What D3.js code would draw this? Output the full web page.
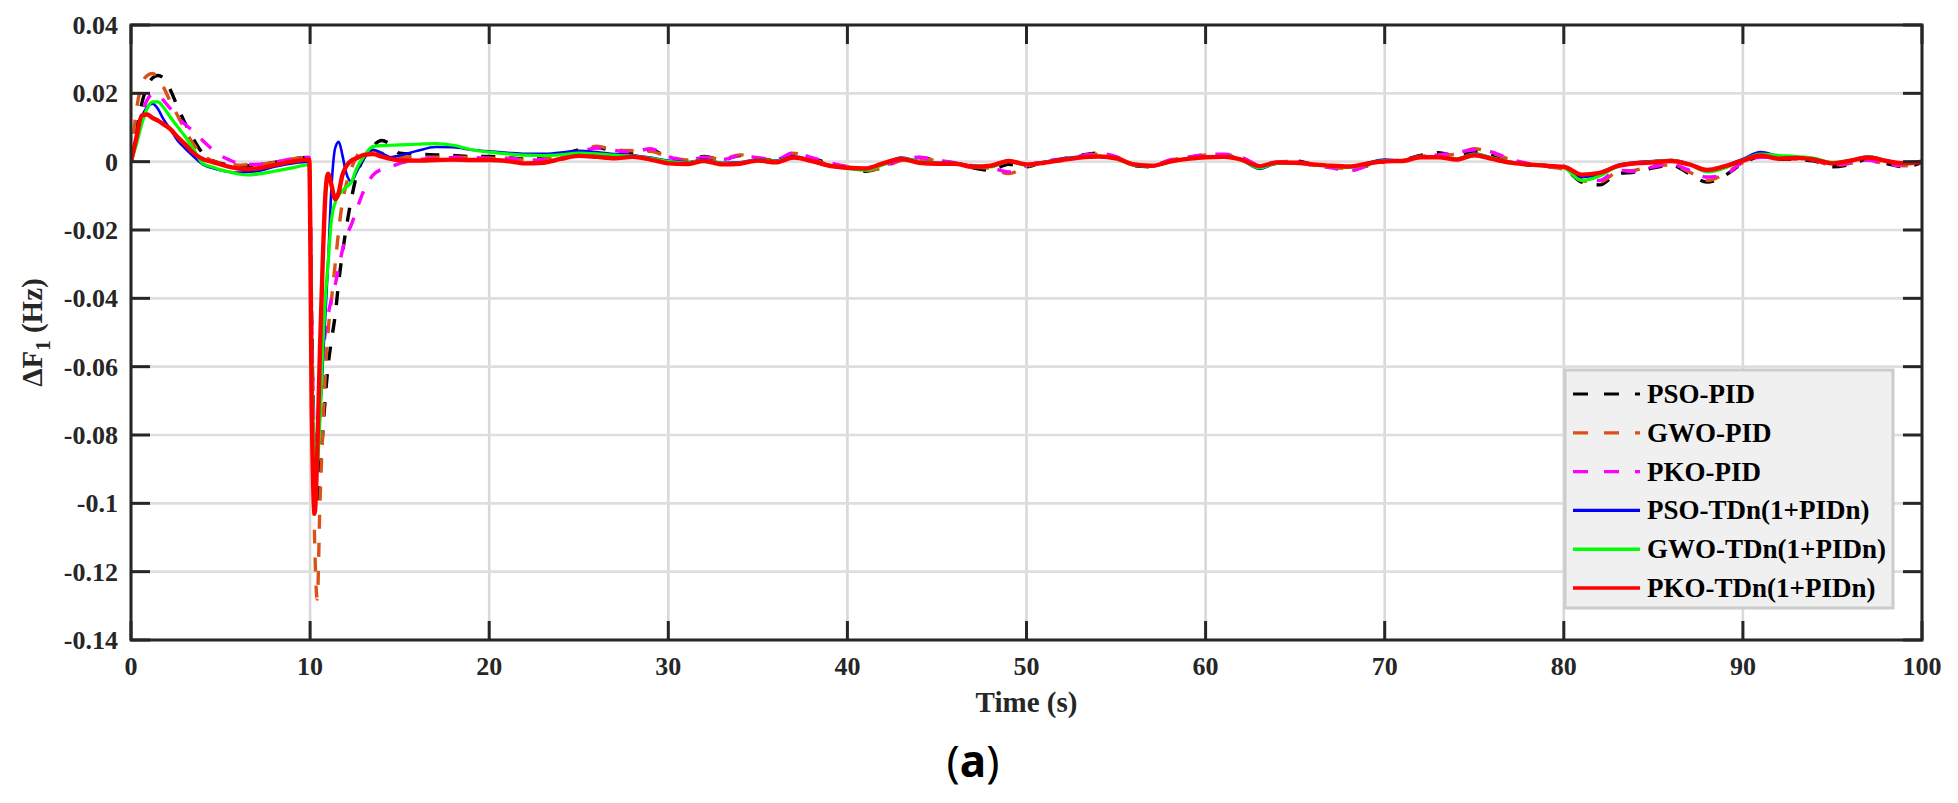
<!DOCTYPE html>
<html lang="en">
<head>
  <meta charset="UTF-8" />
  <title>Delta F1 response</title>
  <script src="https://d3js.org/d3.v7.min.js"></script>
  <style>
    html, body {
      margin: 0;
      padding: 0;
      width: 100%;
      height: 100%;
      overflow: hidden;
      background: #ffffff;
    }
    svg {
      display: block;
      background: #ffffff;
    }
    .tick-label {
      font-family: 'Liberation Serif', 'Times New Roman', serif;
      font-weight: bold;
      font-size: 26px;
      fill: #262626;
    }
    .axis-title {
      font-family: 'Liberation Serif', 'Times New Roman', serif;
      font-weight: bold;
      font-size: 29px;
      fill: #262626;
    }
    .legend-label {
      font-family: 'Liberation Serif', 'Times New Roman', serif;
      font-weight: bold;
      font-size: 27px;
      fill: #000;
    }
    .panel-label {
      font-family: 'Noto Sans', sans-serif;
      font-size: 44px;
      fill: #000;
    }
  </style>
</head>
<body>
<svg width="1958" height="803"></svg>
<script>
// time axis (s): fine steps around the load step at t = 10 s
const time = [
  0, 0.3, 0.6, 0.9, 1.2, 1.5, 1.8, 2.2, 2.6, 3, 3.5, 4, 4.5, 5, 5.5, 6, 6.5, 7, 8, 9, 9.95,
  10.1, 10.25, 10.4, 10.55, 10.7, 10.85, 11, 11.2, 11.4, 11.6, 11.8, 12, 12.3, 12.6, 13, 13.5, 14, 14.5, 15, 16, 17, 18, 19, 20,
  21, 22, 23, 24, 25, 26, 27, 28, 29, 30, 31, 32, 33, 34, 35, 36, 37, 38, 39, 40,
  41, 42, 43, 44, 45, 46, 47, 48, 49, 50, 51, 52, 53, 54, 55, 56, 57, 58, 59, 60,
  61, 62, 63, 64, 65, 66, 67, 68, 69, 70, 71, 72, 73, 74, 75, 76, 77, 78, 79, 80,
  81, 82, 83, 84, 85, 86, 87, 88, 89, 90, 91, 92, 93, 94, 95, 96, 97, 98, 99, 100
];

const psoPid = [
  0, 0.009, 0.017, 0.022, 0.0245, 0.0252, 0.0245, 0.021, 0.016, 0.0115, 0.0065, 0.0025, 0.0005, -0.0005, -0.001, -0.0012, -0.0012, -0.001, -0.0002, 0.0008, 0.0012,
  -0.05, -0.092, -0.1, -0.091, -0.08, -0.069, -0.06, -0.052, -0.045, -0.035, -0.027, -0.02, -0.011, -0.004, 0.001, 0.0045, 0.0062, 0.005, 0.0025, 0.0022, 0.002, 0.0018, 0.0015, 0.0015,
  0.0012, 0.0008, 0.001, 0.0018, 0.0035, 0.0042, 0.003, 0.0025, 0.0035, 0.0012, 0.0002, 0.0015, 0.0005, 0.0018, 0.0008, 0.0003, 0.0022, 0.001, -0.0006, -0.0018,
  -0.0028, -0.0015, 0.0005, 0.0012, 0.0003, -0.0005, -0.0018, -0.0025, -0.0008, -0.0015, 0, 0.0008, 0.0018, 0.0025, 0.0012, -0.0012, -0.0015, 0.0002, 0.0012, 0.0018,
  0.002, 0.0012, -0.0012, -0.0005, 0.0002, -0.0008, -0.0015, -0.0018, -0.0012, 0, 0.0005, 0.0018, 0.0026, 0.0015, 0.003, 0.0018, 0.0002, -0.001, -0.0012, -0.002,
  -0.006, -0.0068, -0.0035, -0.003, -0.0018, -0.001, -0.0035, -0.006, -0.004, -0.0005, 0.0015, 0.0008, 0.0006, 0.0002, -0.0015, -0.0008, 0.0008, -0.0005, -0.0015, -0.0002
];

const gwoPid = [
  0, 0.015, 0.0225, 0.0252, 0.0258, 0.0245, 0.022, 0.0175, 0.0135, 0.0095, 0.005, 0.002, 0.0003, -0.0005, -0.0008, -0.001, -0.0009, -0.0008, -0.0002, 0.0008, 0.0012,
  -0.06, -0.11, -0.128, -0.1, -0.08, -0.062, -0.05, -0.04, -0.03, -0.02, -0.012, -0.007, -0.002, 0.0015, 0.0033, 0.0033, 0.0025, 0.002, 0.0015, 0.0013, 0.0013, 0.0013, 0.0012, 0.001,
  0.001, 0.0006, 0.0008, 0.0018, 0.003, 0.0045, 0.0035, 0.0032, 0.003, 0.0015, 0.0005, 0.0013, 0.0008, 0.002, 0.001, 0.0005, 0.0025, 0.0008, -0.0008, -0.0016,
  -0.0025, -0.0018, 0.0004, 0.001, 0.0002, -0.0004, -0.0015, -0.002, -0.0035, -0.0015, -0.0002, 0.0006, 0.0016, 0.0022, 0.0013, -0.001, -0.0012, 0.0004, 0.0012, 0.002,
  0.0018, 0.001, -0.0012, -0.0002, 0.0001, -0.001, -0.0016, -0.002, -0.001, 0.0002, 0.0004, 0.0016, 0.0018, 0.0022, 0.0038, 0.0025, 0.0006, -0.0008, -0.0015, -0.0022,
  -0.0055, -0.006, -0.003, -0.0025, -0.0012, -0.001, -0.003, -0.0055, -0.0035, -0.0002, 0.0014, 0.001, 0.0008, 0.0004, -0.0012, -0.0005, 0.0006, -0.0008, -0.0012, -0.0004
];

const pkoPid = [
  0, 0.007, 0.014, 0.018, 0.0198, 0.0198, 0.018, 0.0155, 0.013, 0.011, 0.0088, 0.0062, 0.0038, 0.0018, 0.0005, -0.0005, -0.0008, -0.0008, -0.0002, 0.0008, 0.0012,
  -0.05, -0.08, -0.082, -0.068, -0.057, -0.05, -0.045, -0.04, -0.036, -0.031, -0.026, -0.022, -0.0185, -0.014, -0.0085, -0.004, -0.0022, -0.0015, -0.0005, 0.0005, 0.001, 0.0012, 0.0012, 0.001,
  0.001, 0.0005, 0.0006, 0.0015, 0.0028, 0.004, 0.0033, 0.0028, 0.0038, 0.0015, 0.0003, 0.0012, 0.0006, 0.0017, 0.0012, 0.0006, 0.0026, 0.0012, -0.0003, -0.0014,
  -0.0022, -0.0012, 0.0006, 0.0013, 0.0005, -0.0003, -0.0012, -0.0018, -0.003, -0.0012, 0.0002, 0.0008, 0.0017, 0.0024, 0.0015, -0.0008, -0.0011, 0.0005, 0.0013, 0.0021,
  0.0022, 0.0013, -0.0009, -0.0002, 0, -0.0012, -0.0018, -0.0027, -0.0013, 0.0001, 0.0004, 0.0015, 0.002, 0.0026, 0.0035, 0.0028, 0.0008, -0.0005, -0.0012, -0.0018,
  -0.0048, -0.0055, -0.0025, -0.0028, -0.0015, -0.0008, -0.0025, -0.0045, -0.0038, 0, 0.0013, 0.0012, 0.0008, 0.0005, -0.001, -0.0003, 0.0005, -0.0009, -0.001, -0.0003
];

const psoTdn = [
  0, 0.006, 0.013, 0.016, 0.017, 0.0155, 0.0125, 0.0095, 0.0062, 0.004, 0.0015, -0.0008, -0.0018, -0.0025, -0.003, -0.0032, -0.003, -0.0028, -0.0015, -0.0005, 0,
  -0.07, -0.095, -0.09, -0.075, -0.06, -0.045, -0.03, -0.007, 0.004, 0.0058, 0.002, -0.003, -0.0058, -0.003, 0.001, 0.0035, 0.0025, 0.0013, 0.0018, 0.0032, 0.0043, 0.0042, 0.0035, 0.003,
  0.0026, 0.0023, 0.0023, 0.0027, 0.0032, 0.0028, 0.0022, 0.0019, 0.0012, 0.0003, -0.0002, 0.0006, -0.0003, -0.0002, 0.0007, 0.0003, 0.0015, 0.0004, -0.001, -0.0018,
  -0.0022, -0.0007, 0.0012, 0.0001, -0.0003, -0.0004, -0.0012, -0.0014, 0.0003, -0.0008, 0, 0.0008, 0.0015, 0.0016, 0.0009, -0.0011, -0.0014, 0.0001, 0.001, 0.0014,
  0.0015, 0.0004, -0.0021, -0.0005, -0.0004, -0.0009, -0.0013, -0.0016, -0.0004, 0.0006, 0.0004, 0.0016, 0.0014, 0.0008, 0.0024, 0.0012, 0, -0.0007, -0.001, -0.0017,
  -0.0045, -0.0038, -0.001, -0.0002, 0.0002, 0.0005, -0.0006, -0.0026, -0.0012, 0.0008, 0.0028, 0.0016, 0.0012, 0.0008, -0.0004, 0.0004, 0.0015, 0.0003, -0.0006, 0.0002
];

const gwoTdn = [
  0, 0.005, 0.011, 0.0155, 0.0175, 0.0175, 0.016, 0.013, 0.0102, 0.0075, 0.0035, -0.0005, -0.0015, -0.0024, -0.003, -0.0036, -0.0039, -0.0037, -0.0028, -0.0018, -0.0009,
  -0.06, -0.085, -0.088, -0.075, -0.055, -0.04, -0.03, -0.0166, -0.012, -0.0098, -0.0085, -0.0075, -0.006, -0.002, 0.0015, 0.0044, 0.0047, 0.0048, 0.0049, 0.0051, 0.0053, 0.0048, 0.0035, 0.0028,
  0.0023, 0.0019, 0.0018, 0.002, 0.0025, 0.0023, 0.0019, 0.0016, 0.001, 0.0001, -0.0004, 0.0004, -0.0005, -0.0004, 0.0005, 0.0001, 0.0013, 0.0002, -0.0012, -0.002,
  -0.0025, -0.0009, 0.001, 0, -0.0005, -0.0005, -0.0014, -0.0015, 0.0001, -0.001, -0.0002, 0.0006, 0.0013, 0.0016, 0.0008, -0.001, -0.0013, -0.0001, 0.0009, 0.0013,
  0.0014, 0.0005, -0.0018, -0.0004, -0.0004, -0.0009, -0.0014, -0.0017, -0.0007, 0.0003, 0.0003, 0.0014, 0.0014, 0.0008, 0.0022, 0.0011, -0.0001, -0.0008, -0.0011, -0.0018,
  -0.0055, -0.0042, -0.0014, -0.0005, 0, 0.0004, -0.0007, -0.003, -0.0018, 0.0005, 0.0022, 0.0018, 0.0015, 0.001, -0.0002, 0.0004, 0.0014, 0.0003, -0.0007, 0.0002
];

const pkoTdn = [
  0, 0.007, 0.0135, 0.0138, 0.0128, 0.012, 0.011, 0.0095, 0.0072, 0.0052, 0.0025, 0.0008, 0, -0.0008, -0.0015, -0.002, -0.0022, -0.002, -0.001, 0, 0.0006,
  -0.075, -0.103, -0.085, -0.055, -0.03, -0.01, -0.0035, -0.007, -0.011, -0.009, -0.004, -0.0015, 0.0003, 0.001, 0.002, 0.0022, 0.0015, 0.0008, 0.0004, 0.0003, 0.0005, 0.0006, 0.0005, 0.0005,
  0.0002, -0.0005, -0.0003, 0.0008, 0.0017, 0.0014, 0.001, 0.0014, 0.0006, -0.0005, -0.0007, 0.0002, -0.0008, -0.0006, 0.0003, -0.0002, 0.0012, 0.0002, -0.0012, -0.0018,
  -0.002, -0.0005, 0.0008, -0.0003, -0.0006, -0.0006, -0.0015, -0.0012, 0.0002, -0.0008, -0.0003, 0.0005, 0.0012, 0.0015, 0.001, -0.0008, -0.0012, 0, 0.0008, 0.0013,
  0.0014, 0.0006, -0.0013, -0.0002, -0.0003, -0.0008, -0.0012, -0.0014, -0.0006, 0.0001, 0.0002, 0.0013, 0.0013, 0.0006, 0.0019, 0.0008, -0.0003, -0.0008, -0.0012, -0.0015,
  -0.0038, -0.0033, -0.0013, -0.0005, -0.0002, 0.0002, -0.0008, -0.0024, -0.0013, 0.0003, 0.0018, 0.0009, 0.0011, 0.0006, -0.0005, 0.0003, 0.0012, 0.0002, -0.0005, 0
];

const seriesNames = ["PSO-PID", "GWO-PID", "PKO-PID", "PSO-TDn(1+PIDn)", "GWO-TDn(1+PIDn)", "PKO-TDn(1+PIDn)"];
const seriesValues = [psoPid, gwoPid, pkoPid, psoTdn, gwoTdn, pkoTdn];
const seriesColors = ["#000000", "#D95319", "#FF00FF", "#0000FF", "#00FF00", "#FF0000"];
const seriesDash = ["14,14", "14,14", "14,14", null, null, null];
const seriesWidth = [3.4, 3.4, 3.4, 2.6, 3.2, 4.4];

const xTicks = [0, 10, 20, 30, 40, 50, 60, 70, 80, 90, 100];
const yTicks = [0.04, 0.02, 0, -0.02, -0.04, -0.06, -0.08, -0.1, -0.12, -0.14];

const plotLeft = 131, plotRight = 1922, plotTop = 25, plotBottom = 640;
const tickLen = 19;
const axisColor = "#262626";

const svg = d3.select("svg");

const x = d3.scaleLinear().domain([0, 100]).range([plotLeft, plotRight]);
const y = d3.scaleLinear().domain([-0.14, 0.04]).range([plotBottom, plotTop]);

// grid
svg.append("g")
  .selectAll("line")
  .data(xTicks)
  .enter()
  .append("line")
  .attr("x1", d => x(d)).attr("x2", d => x(d))
  .attr("y1", plotTop).attr("y2", plotBottom)
  .attr("stroke", "#d9d9d9")
  .attr("stroke-width", 2.6);

svg.append("g")
  .selectAll("line")
  .data(yTicks)
  .enter()
  .append("line")
  .attr("x1", plotLeft).attr("x2", plotRight)
  .attr("y1", d => y(d)).attr("y2", d => y(d))
  .attr("stroke", "#dedede")
  .attr("stroke-width", 2.6);

// lines
const rows = time.map((t, i) => ({ t, i }));
const line = vals => d3.line()
  .x(d => x(d.t))
  .y(d => y(vals[d.i]))
  .curve(d3.curveMonotoneX)(rows);

svg.append("clipPath").attr("id", "plotClip")
  .append("rect")
  .attr("x", plotLeft).attr("y", plotTop)
  .attr("width", plotRight - plotLeft).attr("height", plotBottom - plotTop);

svg.append("g")
  .attr("clip-path", "url(#plotClip)")
  .selectAll("path")
  .data(seriesValues)
  .enter()
  .append("path")
  .attr("d", d => line(d))
  .attr("fill", "none")
  .attr("stroke", (d, i) => seriesColors[i])
  .attr("stroke-width", (d, i) => seriesWidth[i])
  .attr("stroke-dasharray", (d, i) => seriesDash[i])
  .attr("stroke-linejoin", "round");

// axes box and inward ticks
svg.append("rect")
  .attr("x", plotLeft).attr("y", plotTop)
  .attr("width", plotRight - plotLeft).attr("height", plotBottom - plotTop)
  .attr("fill", "none")
  .attr("stroke", axisColor)
  .attr("stroke-width", 3);

const tickG = svg.append("g").attr("stroke", axisColor).attr("stroke-width", 3);
xTicks.forEach(d => {
  tickG.append("line").attr("x1", x(d)).attr("x2", x(d)).attr("y1", plotBottom).attr("y2", plotBottom - tickLen);
  tickG.append("line").attr("x1", x(d)).attr("x2", x(d)).attr("y1", plotTop).attr("y2", plotTop + tickLen);
});
yTicks.forEach(d => {
  tickG.append("line").attr("x1", plotLeft).attr("x2", plotLeft + tickLen).attr("y1", y(d)).attr("y2", y(d));
  tickG.append("line").attr("x1", plotRight).attr("x2", plotRight - tickLen).attr("y1", y(d)).attr("y2", y(d));
});

// tick labels
svg.append("g")
  .selectAll("text")
  .data(xTicks)
  .enter()
  .append("text")
  .attr("class", "tick-label")
  .attr("x", d => x(d))
  .attr("y", 675)
  .attr("text-anchor", "middle")
  .text(d => d);

svg.append("g")
  .selectAll("text")
  .data(yTicks)
  .enter()
  .append("text")
  .attr("class", "tick-label")
  .attr("x", 118)
  .attr("y", d => y(d) + 9)
  .attr("text-anchor", "end")
  .text(d => String(+d.toFixed(2)));

// axis titles
svg.append("text")
  .attr("class", "axis-title")
  .attr("x", (plotLeft + plotRight) / 2)
  .attr("y", 712)
  .attr("text-anchor", "middle")
  .text("Time (s)");

const yTitle = svg.append("text")
  .attr("class", "axis-title")
  .attr("transform", `translate(42, ${(plotTop + plotBottom) / 2}) rotate(-90)`)
  .attr("text-anchor", "middle");
yTitle.append("tspan").text("\u0394F");
yTitle.append("tspan").attr("dy", 8).style("font-size", "21px").text("1");
yTitle.append("tspan").attr("dy", -8).text(" (Hz)");

// legend
const legend = svg.append("g");
legend.append("rect")
  .attr("x", 1565).attr("y", 370)
  .attr("width", 328).attr("height", 238)
  .attr("fill", "#f0f0f0")
  .attr("stroke", "#cccccc")
  .attr("stroke-width", 3);

const legendRows = legend.selectAll("g.row")
  .data(seriesNames)
  .enter()
  .append("g")
  .attr("class", "row")
  .attr("transform", (d, i) => `translate(0, ${403 + i * 38.8})`);

legendRows.append("line")
  .attr("x1", 1573).attr("x2", 1640)
  .attr("y1", -9).attr("y2", -9)
  .attr("stroke", (d, i) => seriesColors[i])
  .attr("stroke-width", (d, i) => i < 3 ? 3.2 : 3.4)
  .attr("stroke-dasharray", (d, i) => i < 3 ? "15,16" : null);

legendRows.append("text")
  .attr("class", "legend-label")
  .attr("x", 1647)
  .attr("y", 0)
  .text(d => d);

// panel label: "(" and ")" regular, "a" bold
const panel = svg.append("text")
  .attr("class", "panel-label")
  .attr("x", 973)
  .attr("y", 777)
  .attr("text-anchor", "middle");
panel.append("tspan").text("(");
panel.append("tspan").style("font-weight", "bold").text("a");
panel.append("tspan").text(")");
</script>
</body>
</html>
